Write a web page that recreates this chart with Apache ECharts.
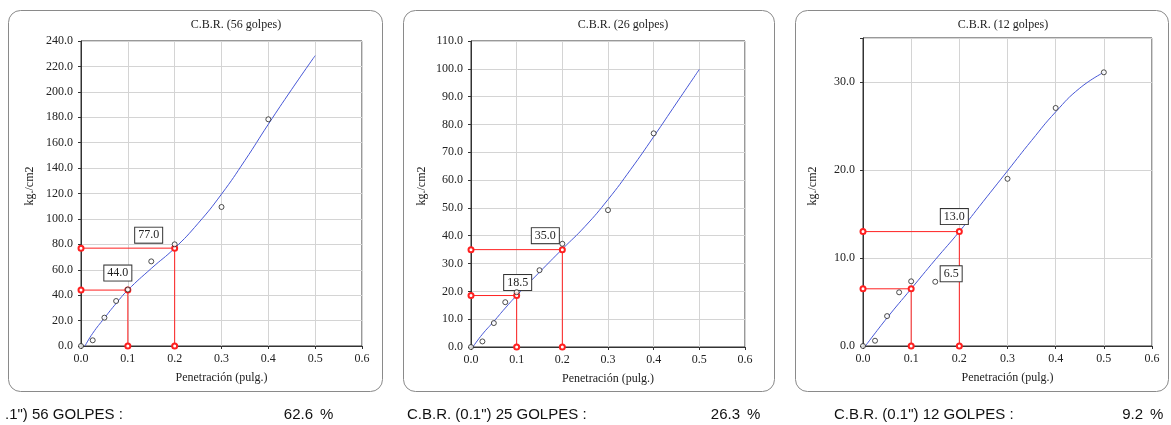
<!DOCTYPE html>
<html>
<head>
<meta charset="utf-8">
<script src="https://cdn.jsdelivr.net/npm/echarts@6/dist/echarts.min.js"></script>
<style>
  html, body { margin: 0; padding: 0; background: #fff; }
  #main { width: 1171px; height: 425px; }
</style>
</head>
<body>
<div id="main"></div>
<script>
// ensayo 56 golpes
const pen56 = [0, 0.025, 0.05, 0.075, 0.1, 0.15, 0.2, 0.3, 0.4];
const carga56 = [0, 4.5, 22.3, 35.4, 44.4, 66.6, 80.0, 109.4, 178.4];
const curvaX56 = [0.0085, 0.025, 0.05, 0.075, 0.1, 0.15, 0.2, 0.25, 0.3, 0.35, 0.4, 0.45, 0.5];
const curvaY56 = [0, 10, 22, 33.5, 44, 61, 77, 96.5, 119.5, 146, 174.5, 202, 228.5];
const lectura56 = [44.0, 77.0];   // a 0.1" y 0.2"
const cbr56 = 62.6;

// ensayo 25/26 golpes
const pen26 = [0, 0.025, 0.05, 0.075, 0.1, 0.15, 0.2, 0.3, 0.4];
const carga26 = [0, 2.0, 8.6, 16.1, 19.7, 27.6, 37.1, 49.2, 76.8];
const curvaX26 = [0.004, 0.025, 0.05, 0.075, 0.1, 0.15, 0.2, 0.25, 0.3, 0.35, 0.4, 0.45, 0.5];
const curvaY26 = [0, 4.6, 9.2, 14.0, 18.5, 26.9, 35.2, 43.4, 53, 63.9, 75.6, 87.7, 99.8];
const lectura26 = [18.5, 35.0];
const cbr26 = 26.3;

// ensayo 12 golpes
const pen12 = [0, 0.025, 0.05, 0.075, 0.1, 0.15, 0.3, 0.4, 0.5];
const carga12 = [0, 0.6, 3.4, 6.1, 7.35, 7.3, 19.0, 27.05, 31.1];
const curvaX12 = [0.005, 0.05, 0.1, 0.15, 0.2, 0.25, 0.3, 0.35, 0.4, 0.45, 0.5];
const curvaY12 = [0, 3.2, 6.5, 9.8, 13, 16.45, 19.9, 23.35, 26.6, 29.3, 31.1];
const lectura12 = [6.5, 13.0];
const cbr12 = 9.2;

const serif = '"Liberation Serif", "Times New Roman", serif';
const sans = '"Liberation Sans", Arial, sans-serif';

function zip(xs, ys) {
  return xs.map((x, i) => [x, ys[i]]);
}

// ejes de un panel
function ejeX(i) {
  return {
    gridIndex: i, type: 'value', min: 0, max: 0.6, interval: 0.1,
    name: 'Penetración (pulg.)', nameLocation: 'middle', nameGap: 26,
    nameTextStyle: { fontFamily: serif, fontSize: 12, color: '#222' },
    axisLine: { lineStyle: { color: '#333' } },
    axisTick: { show: true, length: 3, lineStyle: { color: '#333' } },
    axisLabel: { fontFamily: serif, fontSize: 12, color: '#222', margin: 7,
      formatter: v => v.toFixed(1) },
    splitLine: { lineStyle: { color: '#d4d4d4' } }
  };
}
function ejeY(i, max, interval) {
  return {
    gridIndex: i, type: 'value', min: 0, max: max, interval: interval,
    axisLine: { show: true, lineStyle: { color: '#333' } },
    axisTick: { show: true, length: 3, lineStyle: { color: '#333' } },
    axisLabel: { fontFamily: serif, fontSize: 12, color: '#222', margin: 8,
      formatter: v => (v % interval === 0 ? v.toFixed(1) : '') },
    splitLine: { lineStyle: { color: '#d4d4d4' } }
  };
}

// series de un panel
function series(i, pen, carga, cx, cy, lect, offsets) {
  const out = [];
  out.push({
    type: 'line', xAxisIndex: i, yAxisIndex: i, data: zip(cx, cy),
    smooth: 0.5, showSymbol: false, silent: true,
    lineStyle: { color: '#4757d6', width: 1 }, z: 3
  });
  [0.1, 0.2].forEach((p, k) => {
    const v = lect[k];
    out.push({
      type: 'line', xAxisIndex: i, yAxisIndex: i, clip: false,
      data: [
        [0, v],
        { value: [p, v], label: {
            show: true, position: 'inside', offset: offsets[k],
            formatter: v.toFixed(1), fontFamily: serif, fontSize: 12, color: '#222',
            backgroundColor: '#fff', borderColor: '#333', borderWidth: 1,
            padding: [2, 3, 1, 3]
        } },
        [p, 0]
      ],
      symbol: 'emptyCircle', symbolSize: 5, showSymbol: true,
      lineStyle: { color: '#ff2020', width: 1 },
      itemStyle: { color: '#ff2020', borderColor: '#ff2020', borderWidth: 1 },
      z: 4
    });
  });
  out.push({
    type: 'scatter', xAxisIndex: i, yAxisIndex: i, data: zip(pen, carga),
    clip: false, symbol: 'circle', symbolSize: 5,
    itemStyle: { color: '#fff', borderColor: '#222', borderWidth: 1 }, z: 5
  });
  return out;
}

const marcos = [
  { x: 8, w: 374 },
  { x: 403, w: 371 },
  { x: 795, w: 373 }
];

const graphics = [];
marcos.forEach(m => {
  graphics.push({
    type: 'rect', z: -10, silent: true,
    shape: { x: m.x + 0.5, y: 10.5, width: m.w, height: 381, r: 12 },
    style: { fill: '#fff', stroke: '#8a8a8a', lineWidth: 1 }
  });
});
const titulos = [['C.B.R. (56 golpes)', 236], ['C.B.R. (26 golpes)', 623], ['C.B.R. (12 golpes)', 1003]];
titulos.forEach(t => {
  graphics.push({
    type: 'text', x: t[1], y: 25, silent: true,
    style: { text: t[0], font: '12px ' + serif, fill: '#222', align: 'center', verticalAlign: 'middle' }
  });
});
// nombre del eje vertical
[30, 422, 813].forEach(x => {
  graphics.push({
    type: 'text', x: x, y: 186, rotation: Math.PI / 2, silent: true,
    style: { text: 'kg./cm2', font: '12px ' + serif, fill: '#222', align: 'center', verticalAlign: 'middle' }
  });
});
const pies = [
  ['.1") 56 GOLPES :', 5, cbr56, 313, 320],
  ['C.B.R. (0.1") 25 GOLPES :', 407, cbr26, 740, 747],
  ['C.B.R. (0.1") 12 GOLPES :', 834, cbr12, 1143, 1150]
];
pies.forEach(p => {
  graphics.push({
    type: 'text', x: p[1], y: 415, silent: true,
    style: { text: p[0], font: '15px ' + sans, fill: '#111', align: 'left', verticalAlign: 'middle' }
  });
  graphics.push({
    type: 'text', x: p[3], y: 415, silent: true,
    style: { text: p[2].toFixed(1), font: '15px ' + sans, fill: '#111', align: 'right', verticalAlign: 'middle' }
  });
  graphics.push({
    type: 'text', x: p[4], y: 415, silent: true,
    style: { text: '%', font: '15px ' + sans, fill: '#111', align: 'left', verticalAlign: 'middle' }
  });
});

const chart = echarts.init(document.getElementById('main'), null, { renderer: 'canvas' });
chart.setOption({
  animation: false,
  backgroundColor: '#fff',
  grid: [
    { left: 81, top: 41, width: 281, height: 305, show: true, borderColor: '#333', borderWidth: 1, backgroundColor: 'transparent' },
    { left: 471, top: 41, width: 274, height: 306, show: true, borderColor: '#333', borderWidth: 1, backgroundColor: 'transparent' },
    { left: 863, top: 38, width: 289, height: 308, show: true, borderColor: '#333', borderWidth: 1, backgroundColor: 'transparent' }
  ],
  xAxis: [ejeX(0), ejeX(1), ejeX(2)],
  yAxis: [ejeY(0, 240, 20), ejeY(1, 110, 10), ejeY(2, 35, 10)],
  series: [].concat(
    series(0, pen56, carga56, curvaX56, curvaY56, lectura56, [[-10, -17], [-26, -13]]),
    series(1, pen26, carga26, curvaX26, curvaY26, lectura26, [[1, -13], [-17, -14]]),
    series(2, pen12, carga12, curvaX12, curvaY12, lectura12, [[40, -15], [-5, -15]])
  ),
  graphic: graphics
});
</script>
</body>
</html>
